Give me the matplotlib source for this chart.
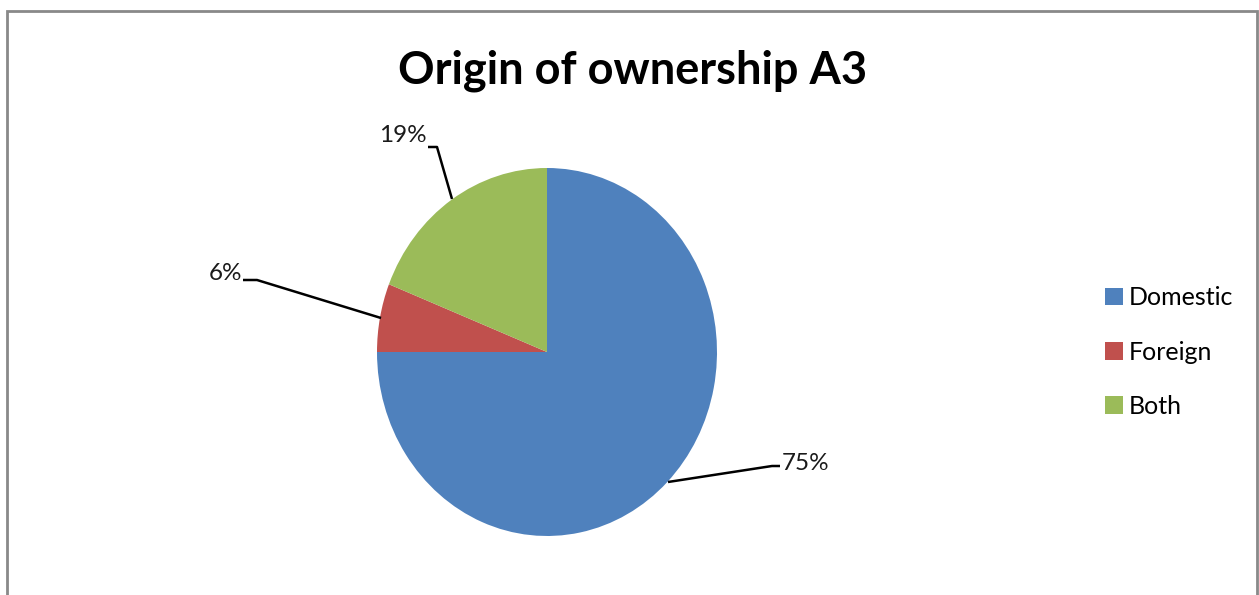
import matplotlib.pyplot as plt
from matplotlib.patches import Rectangle

# ownership split
labels = ['Domestic', 'Foreign', 'Both']
shares = [75, 6, 19]
colors = ['#4F81BD', '#C0504D', '#9BBB59']

W, H = 1259, 595
fig = plt.figure(figsize=(W / 100, H / 100), dpi=100)
fig.patch.set_facecolor('white')

# chart-area frame (open at the bottom)
fig.patches.append(Rectangle((7 / W, -0.05), (1257 - 7) / W, (H - 11) / H + 0.05,
                             transform=fig.transFigure, fill=False,
                             edgecolor='#898989', lw=2))

ax = fig.add_axes([0, 0, 1, 1])
cx, cy, rx, ry = 547, 352, 170, 184
wedges, _ = ax.pie(shares, colors=colors, startangle=90, counterclock=False,
                   radius=1, center=(0, 0))
ax.set_aspect('auto')
ax.set_xlim(-cx / rx, (W - cx) / rx)
ax.set_ylim(-(H - cy) / ry, cy / ry)
ax.axis('off')


def px(x, y):
    return (x - cx) / rx, (cy - y) / ry


# leader lines and percentage labels
leaders = [
    ('75%', [(668, 482), (772, 466), (780, 466)], (782, 463), 'left'),
    ('6%', [(381, 318), (257, 280), (243, 280)], (242, 273), 'right'),
    ('19%', [(452, 199), (437, 147), (428, 147)], (427, 136), 'right'),
]
for txt, pts, tpos, ha in leaders:
    xs, ys = zip(*[px(*p) for p in pts])
    ax.plot(xs, ys, color='black', lw=1.8, solid_capstyle='butt')
    ax.text(*px(*tpos), txt, ha=ha, va='center', fontsize=17.5,
            family='Lato', color='#1a1a1a')

fig.text(633 / W, 1 - 71 / H, 'Origin of ownership A3', ha='center', va='center',
         fontsize=32.5, fontweight='bold', family='Lato')

leg = fig.legend(wedges, labels, loc='center left',
                 bbox_to_anchor=(1095 / W, 1 - 352 / H), frameon=False,
                 prop={'family': 'Lato', 'size': 18},
                 handlelength=0.7, handleheight=0.7, handletextpad=0.25,
                 labelspacing=1.25, borderaxespad=0)

fig.savefig('out.png', dpi=100)
